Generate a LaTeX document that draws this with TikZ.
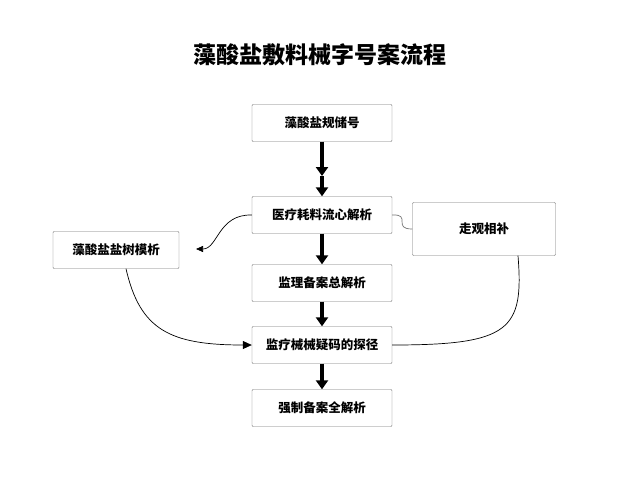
\documentclass[tikz,border=0pt]{standalone}
\usepackage{fontspec}
\newfontfamily\cjk{Noto Sans CJK SC}
\usetikzlibrary{arrows.meta}
\begin{document}
\begin{tikzpicture}[x=1pt,y=-1pt,
  box/.style={draw=black!55,rounded corners=1pt,fill=white,font=\cjk\fontsize{12.5}{14}\selectfont\bfseries,inner sep=0pt,minimum height=37pt},
  big/.style={line width=3.2pt,-{Triangle[length=9pt,width=12pt]}},
  thin/.style={line width=0.7pt}]
\useasboundingbox (0,0) rectangle (640,480);
\node[font=\cjk\fontsize{23}{26}\selectfont\bfseries] (t) at (320,55) {藻酸盐敷料械字号案流程};
\node[box,minimum width=140pt] (a) at (322,123) {藻酸盐规储号};
\node[box,minimum width=140pt] (b) at (322,215) {医疗耗料流心解析};
\node[box,minimum width=126pt] (l) at (116,250) {藻酸盐盐树模析};
\node[box,minimum width=143pt,minimum height=53pt] (r) at (484,229) {走观相补};
\node[box,minimum width=140pt] (c) at (322,283) {监理备案总解析};
\node[box,minimum width=140pt] (d) at (322,345) {监疗械械疑码的探径};
\node[box,minimum width=140pt] (e) at (322,408) {强制备案全解析};
\coordinate (m) at (322,176);
\coordinate (lt) at (196,249);
\draw[big] (a) -- (m);
\draw[big] (m) -- (b);
\draw[big] (b) -- (c);
\draw[big] (c) -- (d);
\draw[big] (d) -- (e);
\draw[thin,-{Triangle[length=7pt,width=6pt]}] (b.west) .. controls (218,214) and (218,249) .. (lt);
\draw[thin,-{Triangle[length=9pt,width=8pt]}] ([xshift=10pt]l.south) .. controls (140,330) and (170,345) .. (d.west);
\draw[thin,black!55] (b.east) .. controls (412,214) and (392,229) .. (r.west);
\draw[thin] ([xshift=34pt]r.south) .. controls (524,330) and (510,345) .. (d.east);
\end{tikzpicture}
\end{document}
